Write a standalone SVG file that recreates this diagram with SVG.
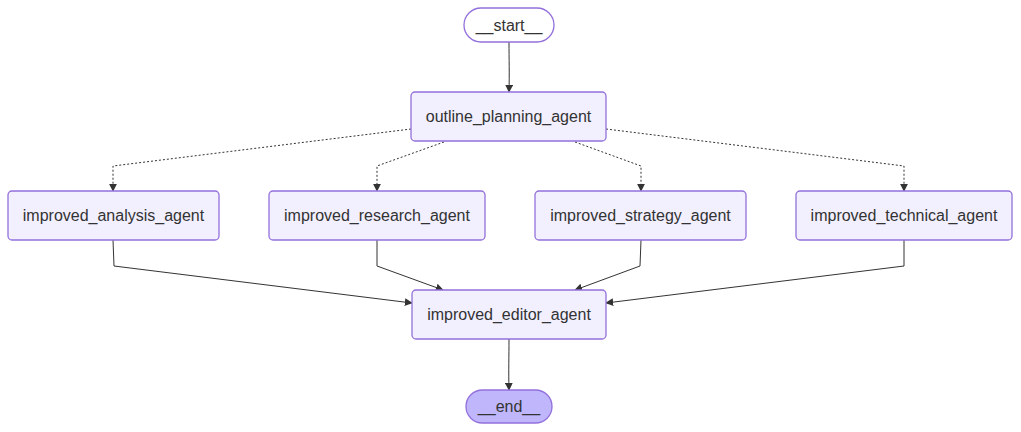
<svg xmlns="http://www.w3.org/2000/svg" width="1021" height="432" viewBox="0 0 1021 432">
<style>
.node rect{fill:#f2f0ff;stroke:#9370DB;stroke-width:1.3}
.node.first rect{fill:#ffffff}
.node.last rect{fill:#bfb6fc}
.node text{font-family:"Liberation Sans",Arial,sans-serif;font-size:16px;fill:#333;text-anchor:middle;dominant-baseline:central}
.edges path{fill:none;stroke:#333;stroke-width:1}
.edges path.dot{stroke-dasharray:2 2}
</style>
<defs>
<marker id="arr" viewBox="0 0 10 10" refX="9" refY="5" markerWidth="8" markerHeight="8" markerUnits="userSpaceOnUse" orient="auto">
<path d="M0,0 L10,5 L0,10 z" fill="#333"/>
</marker>
</defs>
<rect width="1021" height="432" fill="#ffffff"/>
<g class="edges">
<path d="M509,42 C509,60 509.5,72 509,92" marker-end="url(#arr)"/>
<path class="dot" d="M411,129 L113,166 L113,191" marker-end="url(#arr)"/>
<path class="dot" d="M444,142 L377,166 L377,191" marker-end="url(#arr)"/>
<path class="dot" d="M575,142 L641,166 L641,191" marker-end="url(#arr)"/>
<path class="dot" d="M606,129 L904,166 L904,191" marker-end="url(#arr)"/>
<path d="M113,240 L114,266 L412,303" marker-end="url(#arr)"/>
<path d="M377,240 L377,266 L443,290" marker-end="url(#arr)"/>
<path d="M641,240 L640,266 L575,290" marker-end="url(#arr)"/>
<path d="M904,240 L904,266 L606,303" marker-end="url(#arr)"/>
<path d="M509,339 C509,357 508.5,370 509,390" marker-end="url(#arr)"/>
</g>
<g id="start" class="node first"><rect x="464" y="8" width="90" height="34" rx="17"/><text x="509" y="25">__start__</text></g>
<g id="outline_planning_agent" class="node"><rect x="411" y="92" width="195" height="49" rx="4"/><text x="508.5" y="116.5">outline_planning_agent</text></g>
<g id="improved_analysis_agent" class="node"><rect x="8" y="191" width="211" height="49" rx="4"/><text x="113.5" y="215.5">improved_analysis_agent</text></g>
<g id="improved_research_agent" class="node"><rect x="269" y="191" width="216" height="49" rx="4"/><text x="377" y="215.5">improved_research_agent</text></g>
<g id="improved_strategy_agent" class="node"><rect x="535" y="191" width="211" height="49" rx="4"/><text x="640.5" y="215.5">improved_strategy_agent</text></g>
<g id="improved_technical_agent" class="node"><rect x="796" y="191" width="216" height="49" rx="4"/><text x="904" y="215.5">improved_technical_agent</text></g>
<g id="improved_editor_agent" class="node"><rect x="412" y="290" width="194" height="49" rx="4"/><text x="509" y="314.5">improved_editor_agent</text></g>
<g id="end" class="node last"><rect x="466" y="390" width="86" height="33" rx="16.5"/><text x="509" y="406.5">__end__</text></g>
</svg>
